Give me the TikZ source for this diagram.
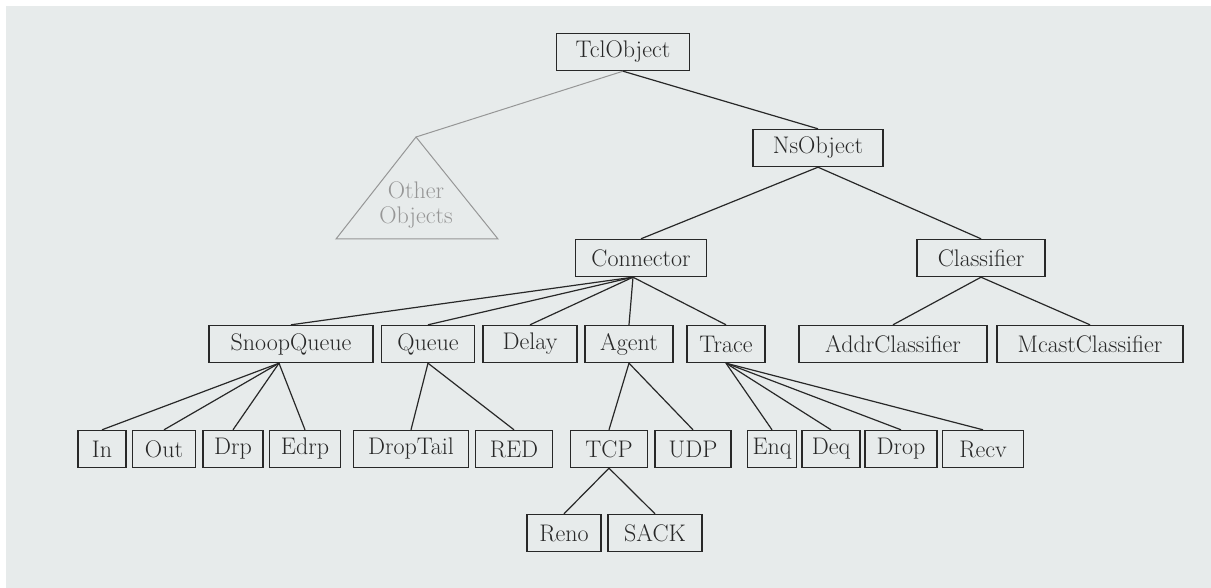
\documentclass[tikz,border=0pt]{standalone}
\usetikzlibrary{positioning}
\definecolor{paper}{RGB}{231,235,235}
\definecolor{ink}{RGB}{40,40,40}
\definecolor{faint}{RGB}{150,150,150}

\begin{document}
\begin{tikzpicture}[x=1pt,y=1pt,
  class/.style={draw=ink,line width=1.4pt,fill=paper,text=ink,font=\fontsize{24}{27}\selectfont,minimum height=37pt,inner xsep=2pt,inner ysep=0pt},
  edge/.style={draw=ink,line width=1.2pt},
  faded/.style={draw=faint,line width=1pt}]
  \fill[white] (0,0) rectangle (1211,-588);
  \fill[paper] (6,-6) rectangle (1211,-588);
  \useasboundingbox (0,0) rectangle (1211,-588);
  %root
  \node[class,minimum width=133pt] (tclobj) at (623,-52) {TclObject};
  \node[class,minimum width=130pt] (nsobj) at (818,-148) {NsObject};
  %other objects
  \coordinate (othertop) at (416,-137);
  \draw[faded] (othertop) -- (336,-239) -- (498,-239) -- cycle;
  \node[font=\fontsize{24}{25}\selectfont,text=faint,align=center] (other) at (416,-205) {Other\\Objects};
  \draw[faded] (tclobj.south) -- (othertop);
  \draw[edge] (tclobj.south) -- (nsobj.north);
  %second level
  \node[class,minimum width=131pt] (conn) at (641,-258) {Connector};
  \node[class,minimum width=128pt] (classif) at (981,-258) {Classifier};
  \draw[edge] (nsobj.south) -- (conn.north);
  \draw[edge] (nsobj.south) -- (classif.north);
  %third level
  \node[class,minimum width=164pt] (snoopq) at (291,-344) {SnoopQueue};
  \node[class,minimum width=93pt] (queue) at (428,-344) {Queue};
  \node[class,minimum width=94pt] (delay) at (530,-344) {Delay};
  \node[class,minimum width=88pt] (agent) at (629,-344) {Agent};
  \node[class,minimum width=78pt] (trace) at (726,-344) {Trace};
  \node[class,minimum width=188pt] (addrcl) at (893,-344) {AddrClassifier};
  \node[class,minimum width=186pt] (mcastcl) at (1090,-344) {McastClassifier};
  \foreach \child in {snoopq,queue,delay,agent,trace}
    \draw[edge] ([xshift=-8pt]conn.south) -- (\child.north);
  \foreach \child in {addrcl,mcastcl}
    \draw[edge] (classif.south) -- (\child.north);
  %fourth level
  \node[class,minimum width=48pt] (inq) at (102,-449) {In};
  \node[class,minimum width=63pt] (outq) at (164,-449) {Out};
  \node[class,minimum width=60pt] (drp) at (233,-449) {Drp};
  \node[class,minimum width=71pt] (edrp) at (305,-449) {Edrp};
  \node[class,minimum width=115pt] (droptail) at (411,-449) {DropTail};
  \node[class,minimum width=77pt] (red) at (514,-449) {RED};
  \node[class,minimum width=77pt] (tcp) at (609,-449) {TCP};
  \node[class,minimum width=76pt] (udp) at (693,-449) {UDP};
  \node[class,minimum width=49pt] (enq) at (772,-449) {Enq};
  \node[class,minimum width=58pt] (deq) at (831,-449) {Deq};
  \node[class,minimum width=72pt] (drop) at (901,-449) {Drop};
  \node[class,minimum width=81pt] (recv) at (983,-449) {Recv};
  \foreach \child in {inq,outq,drp,edrp}
    \draw[edge] ([xshift=-12pt]snoopq.south) -- (\child.north);
  \foreach \child in {droptail,red}
    \draw[edge] (queue.south) -- (\child.north);
  \foreach \child in {tcp,udp}
    \draw[edge] (agent.south) -- (\child.north);
  \foreach \child in {enq,deq,drop,recv}
    \draw[edge] (trace.south) -- (\child.north);
  %fifth level
  \node[class,minimum width=74pt] (reno) at (564,-533) {Reno};
  \node[class,minimum width=94pt] (sack) at (655,-533) {SACK};
  \foreach \child in {reno,sack}
    \draw[edge] (tcp.south) -- (\child.north);
\end{tikzpicture}
\end{document}
